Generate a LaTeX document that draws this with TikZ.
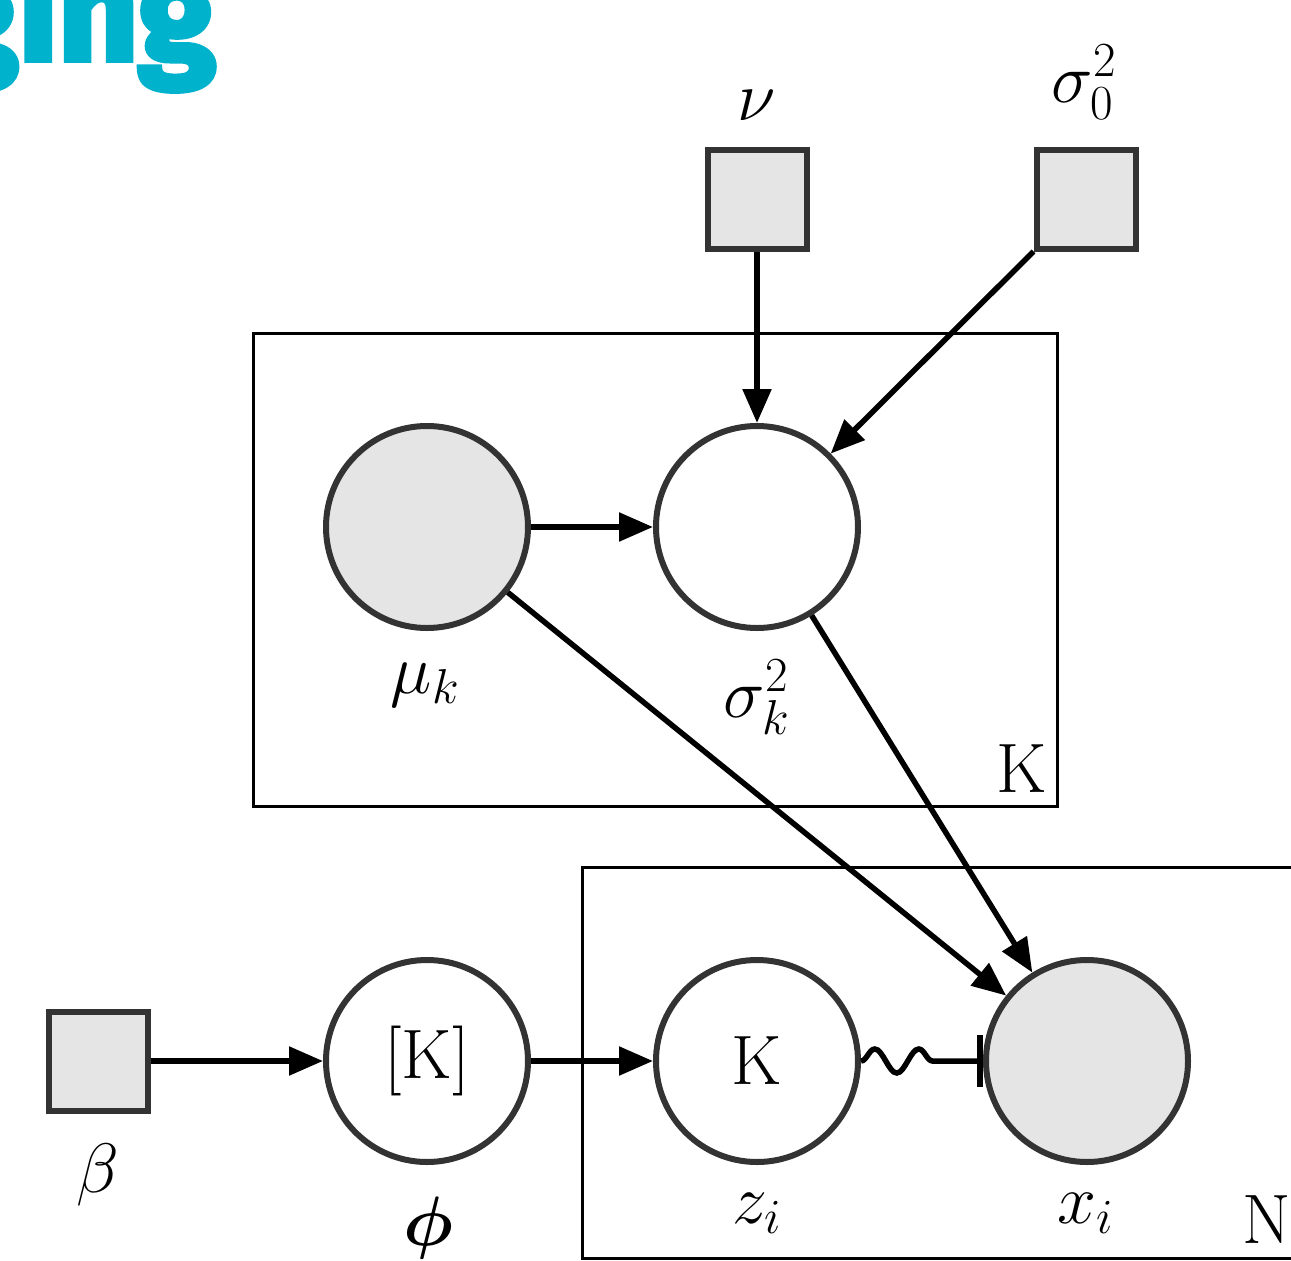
\RequirePackage{fix-cm}
\documentclass[tikz,border=0pt]{standalone}
\usepackage{bm}
\usepackage{fontspec}
\usetikzlibrary{arrows.meta,decorations.pathmorphing}
\newfontfamily\titlefont{Fira Sans}[FakeBold=4]
\definecolor{cyantitle}{RGB}{0,178,204}
\definecolor{nodegray}{RGB}{229,229,229}
\definecolor{nodeborder}{RGB}{51,51,51}
\begin{document}
\begin{tikzpicture}[x=1pt,y=-1pt,
  every node/.style={font=\fontsize{70}{84}\selectfont},
  latent/.style={circle, draw=nodeborder, line width=6pt, fill=white, minimum size=202pt, inner sep=0pt},
  observed/.style={latent, fill=nodegray},
  param/.style={rectangle, draw=nodeborder, line width=6pt, fill=nodegray, minimum size=99pt, inner sep=0pt},
  plate/.style={rectangle, draw=black, line width=3pt, inner sep=0pt, anchor=north west},
  edge/.style={line width=5.5pt, -{Triangle[length=34pt,width=28pt]}},
  snakeedge/.style={line width=5.5pt, -{Bar[width=52pt,line width=6pt]}, decorate,
    decoration={snake, amplitude=12pt, segment length=44pt, post length=30pt}},
  lbl/.style={anchor=base, inner sep=0pt},
]
\useasboundingbox (0,0) rectangle (1291,1261);
\clip (0,0) rectangle (1291,1261);

% title fragment
\node[anchor=base east, text=cyantitle, inner sep=0pt, font=\titlefont\bfseries\fontsize{140}{140}\selectfont] (title) at (216,60) {ging};

% plates
\node[plate, minimum width=804pt, minimum height=473pt] (plateK) at (252,332) {};
\node[plate, minimum width=760pt, minimum height=391pt] (plateN) at (581,866) {};
\node[lbl, anchor=base east] (Klbl) at (1047,792) {K};
\node[lbl, anchor=base west] (Nlbl) at (1242,1243) {N};

% hyperparameters
\node[param] (nu) at (757,199) {};
\node[param] (s0) at (1086,199) {};
\node[param] (beta) at (98,1061) {};
\node[lbl] (nulbl) at (757,120) {$\nu$};
\node[lbl] (s0lbl) at (1084,102) {$\sigma_0^2$};
\node[lbl] (betalbl) at (98,1192) {$\beta$};

% variables
\node[observed] (mu) at (427,527) {};
\node[latent] (sk) at (757,527) {};
\node[latent] (phi) at (427,1061) {[K]};
\node[latent] (zi) at (757,1061) {K};
\node[observed] (xi) at (1087,1061) {};

\node[lbl] (mulbl) at (425,693) {$\mu_k$};
\node[lbl] (sklbl) at (757,717) {$\sigma_k^2$};
\node[lbl] (philbl) at (428,1245) {$\bm{\phi}$};
\node[lbl] (zilbl) at (757,1223) {$z_i$};
\node[lbl] (xilbl) at (1085,1223) {$x_i$};

% edges
\draw[edge] (nu) -- (sk);
\draw[edge] (s0.south west) -- (sk);
\draw[edge] (mu) -- (sk);
\draw[edge] (mu) -- (xi);
\draw[edge] (sk) -- (xi);
\draw[edge] (beta) -- (phi);
\draw[edge] (phi) -- (zi);
\draw[snakeedge] (zi) -- (xi);
\end{tikzpicture}
\end{document}
